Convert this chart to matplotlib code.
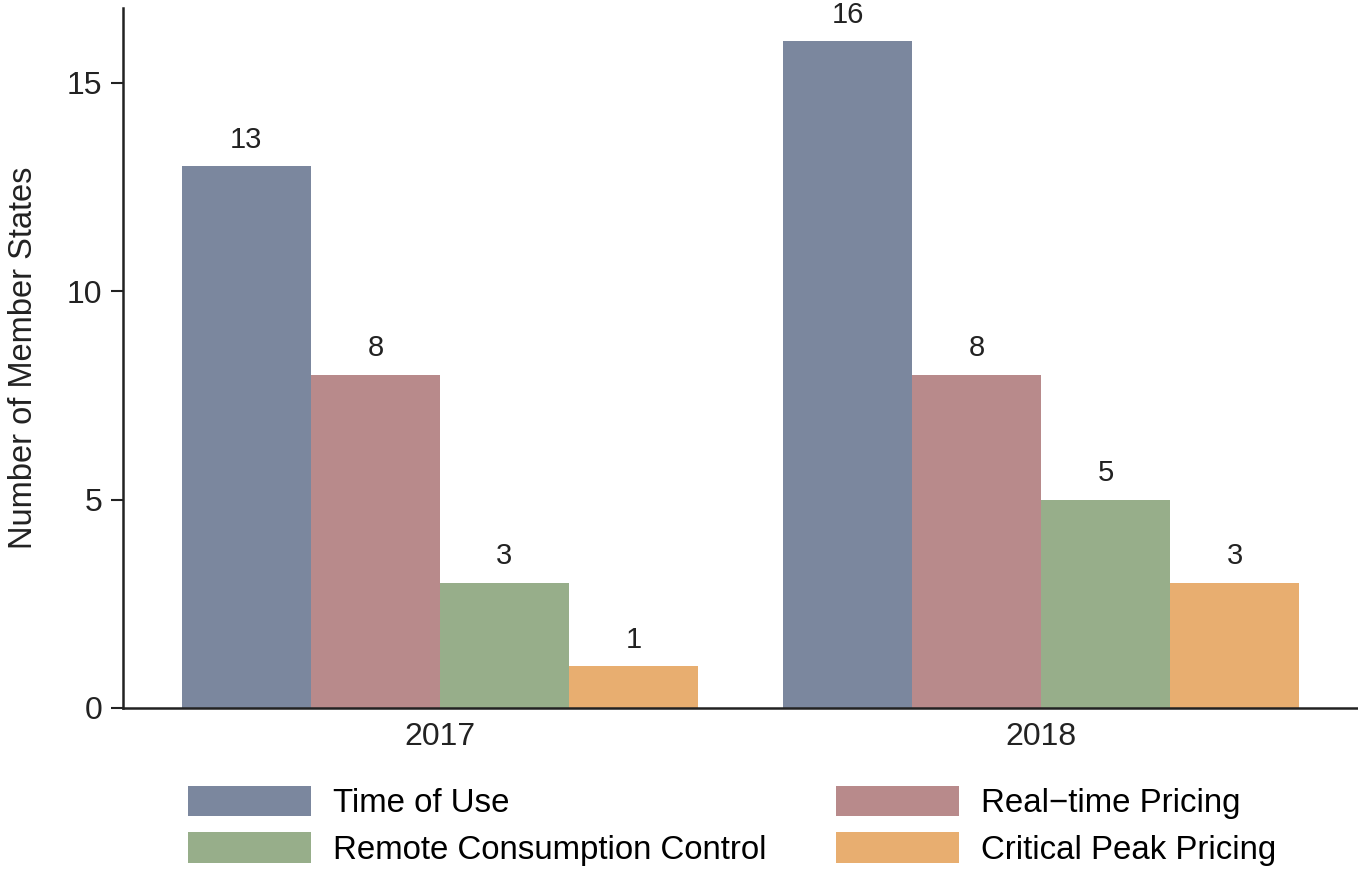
import numpy as np
import matplotlib
matplotlib.use('Agg')
import matplotlib.pyplot as plt

plt.rcParams['font.family'] = ['Liberation Sans', 'DejaVu Sans']

# data
years = ['2017', '2018']
series = ['Time of Use', 'Real\u2212time Pricing', 'Remote Consumption Control', 'Critical Peak Pricing']
values = [[13, 16],   # time of use
          [8, 8],     # real-time pricing
          [3, 5],     # remote consumption control
          [1, 3]]     # critical peak pricing
colors = ['#7B879E', '#B88A8B', '#97AE8A', '#E8AE70']

fig = plt.figure(figsize=(13.58, 8.81), dpi=100)
ax = fig.add_axes([0.0906, 0.1964, 0.9094, 0.7946])

x = np.arange(len(years))
w = 0.2146
handles = []
for i in range(len(series)):
    xs = x + (i - 1.5) * w
    bars = ax.bar(xs, values[i], width=w, color=colors[i], label=series[i])
    handles.append(bars)
    for xx, v in zip(xs, values[i]):
        ax.annotate(str(v), (xx, v), xytext=(0, 9), textcoords='offset points',
                    ha='center', va='bottom', fontsize=21, color='#222222')

ax.set_xlim(-0.527, 1.527)
ax.set_ylim(0, 16.8)
ax.set_yticks([0, 5, 10, 15])
ax.set_xticks(x)
ax.set_xticklabels(years)
ax.tick_params(axis='y', labelsize=23, length=9, width=1.5, pad=6, colors='#222222')
ax.tick_params(axis='x', labelsize=23, length=0, pad=10, colors='#222222')
ax.set_ylabel('Number of Member States', fontsize=23.5, labelpad=20, color='#222222')

for s in ['top', 'right']:
    ax.spines[s].set_visible(False)
for s in ['left', 'bottom']:
    ax.spines[s].set_linewidth(1.8)
    ax.spines[s].set_color('#222222')

# row-wise legend order: matplotlib fills columns first
order = [0, 2, 1, 3]
fig.legend([handles[k] for k in order], [series[k] for k in order],
           loc='upper left', bbox_to_anchor=(0.1384, 0.108), ncol=2, frameon=False,
           fontsize=23.8, handlelength=3.73, handleheight=1.03, handletextpad=0.66,
           columnspacing=2.1, labelspacing=0.4, borderaxespad=0, borderpad=0)

fig.savefig('out.png', dpi=100)
